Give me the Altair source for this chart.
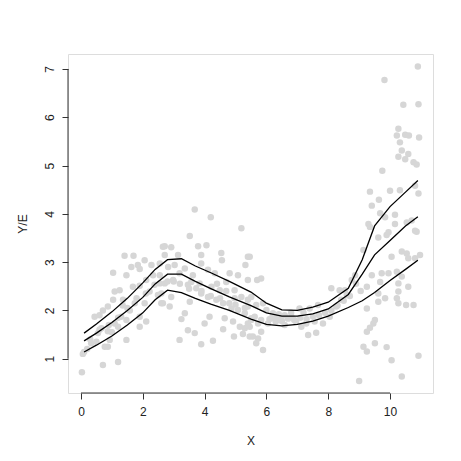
import altair as alt
import pandas as pd

# ---- scatter points ----
pt_x = [0.03, 0.06, 0.10, 0.71, 1.20, 0.77, 0.87, 0.93, 0.44, 0.60, 0.71, 0.87, 1.04, 1.09, 1.25,
        1.04, 1.41, 1.70, 1.47, 1.63, 1.84, 1.90, 2.06, 2.28, 2.55, 2.65, 1.47, 1.90, 2.11, 1.90,
        1.74, 2.06, 2.22, 2.38, 2.55, 0.66, 1.09, 1.30, 1.47, 0.33, 0.55, 0.87, 1.20, 1.58, 1.36,
        1.68, 1.90, 2.11, 2.33, 2.49, 2.65,
        3.68, 4.20, 5.19, 3.52, 2.71, 2.92, 3.79, 4.06, 4.54, 4.56, 3.89, 5.40, 3.14, 2.71, 3.03,
        3.36, 3.89, 4.11, 4.33, 4.81, 5.08, 5.32, 5.40, 3.57, 3.73, 3.89, 4.11, 4.38, 4.60, 4.87,
        5.08, 5.30, 5.51, 5.40, 5.14, 4.92, 4.65, 4.00, 4.16, 3.36, 3.52, 3.25, 3.19, 3.68, 3.46,
        3.89, 4.27, 4.60, 4.95, 5.24, 5.46, 5.30, 2.60, 2.87, 2.92, 2.60, 2.71, 2.98, 3.19, 3.46,
        3.62, 3.84, 4.22, 4.49, 4.70, 4.97, 5.19, 5.40, 5.40, 4.97, 2.55, 2.82,
        5.46, 5.70, 5.83, 5.51, 5.67, 5.89, 6.00, 6.21, 5.62, 5.83, 6.16, 6.43, 6.59, 6.81, 7.07,
        7.40, 7.67, 8.10, 8.37, 6.96, 7.29, 7.56, 7.83, 6.59, 7.13, 5.51, 5.46, 5.73, 5.56, 5.73,
        5.67, 5.83, 5.89, 7.35, 7.61, 6.05, 6.30, 8.05, 8.26, 8.42,
        10.90, 9.82, 10.43, 10.92, 10.27, 10.22, 10.49, 10.61, 10.32, 10.94, 10.38, 10.59, 10.27,
        10.49, 10.76, 10.86, 9.75, 9.35, 9.64, 10.00, 10.32, 10.81, 10.92, 9.41, 9.68, 9.84, 10.16,
        9.30, 9.35, 10.54, 10.70, 10.81, 10.16, 9.95,
        9.62, 9.89, 10.86, 9.14, 10.05, 10.38, 10.54, 10.81, 10.97, 10.59, 9.73, 9.95, 10.22,
        10.38, 9.41, 9.25, 9.68, 9.62, 9.84, 9.62, 10.27, 10.59, 10.27, 10.22, 10.27, 10.52, 10.76,
        9.25, 8.76, 8.60, 8.87, 9.51, 9.46, 9.35, 9.25, 9.14, 9.25, 9.51, 9.89, 10.05, 10.92, 10.38,
        9.00, 8.54,
        6.10, 6.30, 6.50, 6.70, 6.90, 7.10, 7.30, 7.50, 7.70, 7.90, 8.10, 8.30, 8.50, 6.40, 6.80,
        7.20, 4.20, 4.50, 4.80, 5.00, 5.30, 3.50, 3.90, 3.20, 3.00, 2.80, 4.40, 4.70,
        0.30, 0.60, 0.90, 1.20, 1.50, 1.80, 2.10, 0.20, 0.50, 1.00, 1.35, 8.90, 9.05, 8.70]
pt_y = [0.72, 1.10, 1.14, 0.87, 0.93, 1.25, 1.25, 1.39, 1.87, 1.90, 2.00, 2.08, 2.22, 2.39, 2.42,
        2.78, 3.13, 3.13, 2.73, 2.90, 2.94, 2.86, 3.04, 2.94, 2.73, 3.32, 1.39, 1.66, 1.77, 1.87,
        2.15, 2.15, 2.39, 2.53, 2.56, 1.63, 1.73, 1.87, 1.80, 1.32, 1.53, 1.57, 1.66, 2.00, 2.22,
        2.49, 2.51, 2.63, 2.73, 2.32, 2.15,
        4.09, 3.93, 3.70, 3.54, 3.33, 3.31, 3.33, 3.35, 3.19, 3.04, 3.15, 3.11, 3.15, 3.15, 2.94,
        2.87, 2.97, 2.84, 2.77, 2.77, 2.73, 2.94, 2.63, 2.59, 2.46, 2.35, 2.28, 2.22, 2.15, 2.04,
        2.01, 1.94, 1.84, 1.73, 1.66, 1.77, 1.84, 1.73, 1.87, 1.94, 2.18, 1.82, 1.39, 1.53, 1.59,
        1.30, 1.37, 1.61, 1.46, 1.51, 1.46, 1.63, 2.15, 2.08, 2.28, 2.35, 2.56, 2.63, 2.77, 2.53,
        2.73, 2.56, 2.49, 2.42, 2.59, 2.42, 2.28, 2.22, 2.08, 2.25, 2.97, 2.90,
        3.11, 2.63, 2.66, 2.28, 2.11, 2.15, 2.01, 1.94, 1.87, 1.80, 1.84, 1.80, 1.90, 1.87, 2.04,
        2.04, 2.11, 2.46, 2.42, 1.77, 1.73, 1.77, 1.73, 1.70, 1.66, 1.80, 1.66, 1.73, 1.46, 1.42,
        1.32, 1.56, 1.18, 1.49, 1.54, 1.73, 1.77, 1.87, 2.08, 2.22,
        7.05, 6.77, 6.26, 6.27, 5.76, 5.62, 5.64, 5.62, 5.48, 5.58, 5.31, 5.24, 5.18,
        5.13, 5.07, 5.02, 4.89, 4.46, 4.29, 4.48, 4.49, 4.58, 4.42, 4.17, 4.01, 3.93, 3.98,
        3.79, 3.73, 3.82, 3.86, 3.65, 3.79, 3.62,
        3.51, 3.56, 3.63, 3.25, 3.11, 3.22, 3.18, 3.08, 3.15, 3.08, 2.77, 2.77, 2.80,
        2.70, 2.73, 2.49, 2.59, 2.35, 2.25, 2.18, 2.56, 2.49, 2.39, 2.25, 2.15, 2.11, 2.11,
        2.04, 2.63, 2.32, 2.73, 1.80, 1.73, 1.64, 1.56, 1.25, 1.15, 1.32, 1.24, 0.97, 1.06, 0.63,
        0.54, 2.42,
        1.82, 1.86, 1.78, 1.83, 1.80, 1.85, 1.82, 1.88, 1.90, 1.95, 2.00, 2.10, 2.20, 1.92, 1.95,
        1.95, 2.30, 2.25, 2.15, 2.12, 2.05, 2.45, 2.40, 2.55, 2.60, 2.60, 2.55, 2.40,
        1.40, 1.60, 1.70, 1.85, 2.05, 2.25, 2.35, 1.20, 1.35, 1.55, 2.10, 2.55, 2.40, 2.30]

# ---- fitted curve and bands ----
line_x = [0.1, 0.5, 1.0, 1.5, 2.0, 2.4, 2.8, 3.25, 3.7, 4.2, 4.8, 5.5, 6.0, 6.5, 7.0, 7.5,
          8.0, 8.65, 9.1, 9.5, 10.0, 10.5, 10.9]
upper = [1.53, 1.72, 1.97, 2.25, 2.57, 2.85, 3.05, 3.07, 2.92, 2.78, 2.60, 2.38, 2.15, 2.01,
         2.00, 2.07, 2.17, 2.46, 3.05, 3.75, 4.15, 4.45, 4.69]
middle = [1.37, 1.53, 1.75, 2.00, 2.27, 2.55, 2.75, 2.75, 2.60, 2.45, 2.28, 2.10, 1.95, 1.88,
          1.88, 1.93, 2.03, 2.33, 2.75, 3.15, 3.45, 3.75, 3.94]
lower = [1.14, 1.28, 1.47, 1.70, 1.95, 2.22, 2.42, 2.37, 2.25, 2.13, 2.00, 1.82, 1.71, 1.68,
         1.71, 1.78, 1.88, 2.06, 2.20, 2.37, 2.62, 2.85, 3.04]

x_ticks = [0, 2, 4, 6, 8, 10]
y_ticks = [1, 2, 3, 4, 5, 6, 7]

pts = pd.DataFrame({"X": pt_x, "Y": pt_y})
lines = pd.concat([
    pd.DataFrame({"X": line_x, "Y": v, "band": name})
    for name, v in [("upper", upper), ("middle", middle), ("lower", lower)]
])

FONT = "Liberation Sans"
xscale = alt.Scale(domain=[-0.42, 11.39], nice=False, zero=False)
yscale = alt.Scale(domain=[0.29, 7.31], nice=False, zero=False)

xaxis = alt.Axis(values=x_ticks, grid=False, domain=False, tickSize=6, tickColor="#333",
                 labelPadding=7, labelFontSize=12, labelFont=FONT, labelColor="#222",
                 title="X", titleFont=FONT, titleFontSize=12, titleFontWeight="normal",
                 titleColor="#222", titleY=47, titleBaseline="middle", labelFlush=False)
yaxis = alt.Axis(values=y_ticks, grid=False, domain=False, tickSize=6, tickColor="#333",
                 labelAngle=270, labelPadding=6, labelFontSize=12, labelFont=FONT,
                 labelColor="#222", labelFlush=False,
                 title="Y/E", titleFont=FONT, titleFontSize=12, titleFontWeight="normal",
                 titleColor="#222", titleX=-46, titleBaseline="middle")

points = alt.Chart(pts).mark_circle(color="#d6d6d6", opacity=1, size=42).encode(
    x=alt.X("X:Q", scale=xscale, axis=xaxis),
    y=alt.Y("Y:Q", scale=yscale, axis=yaxis),
)

curves = alt.Chart(lines).mark_line(color="black", strokeWidth=1.3).encode(
    x=alt.X("X:Q", scale=xscale),
    y=alt.Y("Y:Q", scale=yscale),
    detail="band:N",
)

yrule = alt.Chart(pd.DataFrame({"a": [y_ticks[0]], "b": [y_ticks[-1]]})).mark_rule(
    color="#333", strokeWidth=1).encode(
    x=alt.value(0), y=alt.Y("a:Q", scale=yscale), y2="b:Q")
xrule = alt.Chart(pd.DataFrame({"a": [x_ticks[0]], "b": [x_ticks[-1]]})).mark_rule(
    color="#333", strokeWidth=1).encode(
    y=alt.value(339), x=alt.X("a:Q", scale=xscale), x2="b:Q")

chart = alt.layer(points, curves, yrule, xrule).properties(
    width=365, height=339,
    autosize=alt.AutoSizeParams(type="none"),
    padding={"left": 60, "top": 46, "right": 20, "bottom": 60},
).configure_view(stroke="#8a8a8a", strokeWidth=1).configure(background="white")

chart.save("out.html", embed_options={"renderer": "svg", "actions": False})
